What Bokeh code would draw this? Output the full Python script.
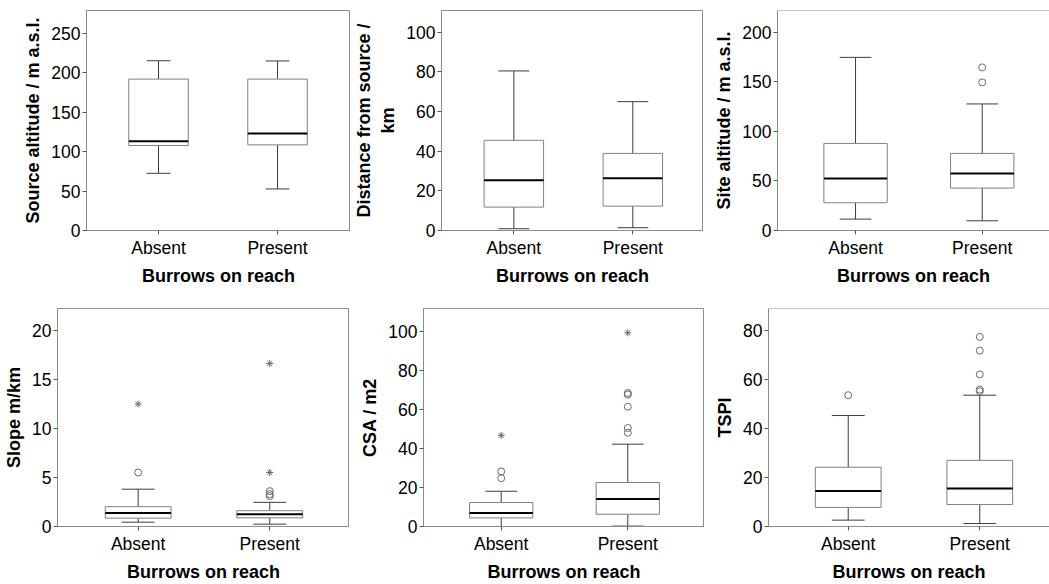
from bokeh.plotting import figure
from bokeh.layouts import column, row
from bokeh.models import Range1d, FixedTicker, Span
from bokeh.embed import file_html
from bokeh.resources import INLINE
import numpy as np

# ---------------- data ----------------
categories = ["Absent", "Present"]
x_title = "Burrows on reach"

# Source altitude / m a.s.l.
src_low = [72.5, 52.7]
src_q1 = [107.8, 108.6]
src_med = [113.3, 123.0]
src_q3 = [192.0, 192.0]
src_high = [215.3, 215.0]
src_ticks = [0, 50, 100, 150, 200, 250]

# Distance from source / km
dist_low = [0.9, 1.4]
dist_q1 = [11.8, 12.3]
dist_med = [25.3, 26.3]
dist_q3 = [45.5, 38.9]
dist_high = [80.5, 65.0]
dist_ticks = [0, 20, 40, 60, 80, 100]

# Site altitude / m a.s.l.
site_low = [11.5, 9.8]
site_q1 = [28.0, 42.8]
site_med = [52.5, 57.6]
site_q3 = [87.9, 77.8]
site_high = [174.7, 127.7]
site_out_cat = ["Present", "Present"]
site_out_val = [164.6, 149.5]
site_ticks = [0, 50, 100, 150, 200]

# Slope m/km
slope_low = [0.44, 0.24]
slope_q1 = [0.85, 0.88]
slope_med = [1.38, 1.25]
slope_q3 = [2.02, 1.61]
slope_high = [3.8, 2.46]
slope_out_cat = ["Absent", "Present", "Present", "Present"]
slope_out_val = [5.5, 3.1, 3.3, 3.6]
slope_ext_cat = ["Absent", "Present", "Present"]
slope_ext_val = [12.47, 5.5, 16.6]
slope_ticks = [0, 5, 10, 15, 20]

# CSA / m2
csa_low = [0.0, 0.2]
csa_q1 = [4.4, 6.3]
csa_med = [7.0, 14.1]
csa_q3 = [12.3, 22.6]
csa_high = [18.1, 42.3]
csa_out_cat = ["Absent", "Absent", "Present", "Present", "Present", "Present", "Present"]
csa_out_val = [28.3, 24.8, 68.6, 67.8, 61.5, 50.6, 48.2]
csa_ext_cat = ["Absent", "Present"]
csa_ext_val = [46.8, 99.5]
csa_ticks = [0, 20, 40, 60, 80, 100]

# TSPI
tspi_low = [2.6, 1.2]
tspi_q1 = [7.8, 9.0]
tspi_med = [14.5, 15.5]
tspi_q3 = [24.2, 27.0]
tspi_high = [45.3, 53.6]
tspi_out_cat = ["Absent", "Present", "Present", "Present", "Present", "Present"]
tspi_out_val = [53.6, 77.4, 71.8, 62.1, 55.9, 55.2]
tspi_ticks = [0, 20, 40, 60, 80]

# ---------------- styling ----------------
FONT = "Liberation Sans"
AXIS_GREY = "#8c8c8c"
BOX_GREY = "#808080"
WHISK = "#3c3c3c"
PT = "#6a6a6a"

pos = {c: i + 1 for i, c in enumerate(categories)}


def panel(ylabel, low, q1, med, q3, high, yticks, yend, w, h, left, top, bottom,
          xs, xe, cap, out_cat=None, out_val=None, ext_cat=None, ext_val=None,
          right_edge=True):
    p = figure(width=w, height=h, x_range=Range1d(xs, xe), y_range=Range1d(0, yend),
               output_backend="svg", toolbar_location=None, title=None,
               min_border_left=left, min_border_right=0,
               min_border_top=top, min_border_bottom=bottom)
    p.xgrid.visible = False
    p.ygrid.visible = False
    p.background_fill_color = "white"
    p.border_fill_color = "white"
    if right_edge:
        p.outline_line_color = AXIS_GREY
        p.outline_line_width = 1
    else:
        p.outline_line_color = None
        p.add_layout(Span(location=yend, dimension="width", line_color=AXIS_GREY, line_width=1))

    x = np.array([pos[c] for c in categories], dtype=float)
    low = np.array(low); q1 = np.array(q1); med = np.array(med)
    q3 = np.array(q3); high = np.array(high)

    # whiskers
    p.segment(x0=x, x1=x, y0=q3, y1=high, line_color=WHISK, line_width=1)
    p.segment(x0=x, x1=x, y0=low, y1=q1, line_color=WHISK, line_width=1)
    p.segment(x0=x - cap / 2, x1=x + cap / 2, y0=high, y1=high, line_color=WHISK, line_width=1)
    p.segment(x0=x - cap / 2, x1=x + cap / 2, y0=low, y1=low, line_color=WHISK, line_width=1)
    # boxes
    p.vbar(x=x, width=0.5, bottom=q1, top=q3, fill_color="white",
           line_color=BOX_GREY, line_width=1)
    # medians
    p.segment(x0=x - 0.25, x1=x + 0.25, y0=med, y1=med, line_color="black", line_width=2)

    if out_cat:
        p.scatter(x=[pos[c] for c in out_cat], y=out_val, marker="circle", size=7,
                  fill_color=None, line_color=PT, line_width=1)
    if ext_cat:
        p.scatter(x=[pos[c] for c in ext_cat], y=ext_val, marker="asterisk", size=7,
                  line_color=PT, line_width=1)

    p.xaxis.ticker = FixedTicker(ticks=[pos[c] for c in categories])
    p.xaxis.major_label_overrides = {pos[c]: c for c in categories}
    p.yaxis.ticker = FixedTicker(ticks=yticks)
    p.xaxis.axis_label = x_title
    p.yaxis.axis_label = ylabel
    for ax in (p.xaxis[0], p.yaxis[0]):
        ax.axis_line_color = AXIS_GREY
        ax.major_tick_line_color = "#555555"
        ax.minor_tick_line_color = None
        ax.major_tick_in = 0
        ax.major_tick_out = 4
        ax.major_label_text_font = FONT
        ax.major_label_text_font_size = "17.5px"
        ax.major_label_text_color = "black"
        ax.axis_label_text_font = FONT
        ax.axis_label_text_font_size = "18px"
        ax.axis_label_text_font_style = "bold"
        ax.axis_label_text_color = "black"
    p.yaxis.major_label_standoff = 2
    p.yaxis.axis_label_standoff = 5
    p.xaxis.major_label_standoff = 3
    p.xaxis.axis_label_standoff = 5
    return p


p1 = panel("Source altitude / m a.s.l.", src_low, src_q1, src_med, src_q3, src_high,
           src_ticks, 279, 350, 290, 86, 10, 60, 0.395, 2.613, 0.2)
p2 = panel("Distance from source /\nkm", dist_low, dist_q1, dist_med, dist_q3, dist_high,
           dist_ticks, 111, 353, 290, 91, 10, 60, 0.392, 2.594, 0.26)
p3 = panel("Site altitude / m a.s.l.", site_low, site_q1, site_med, site_q3, site_high,
           site_ticks, 222, 346, 290, 74, 10, 60, 0.384, 2.531, 0.25,
           out_cat=site_out_cat, out_val=site_out_val, right_edge=False)
p4 = panel("Slope m/km", slope_low, slope_q1, slope_med, slope_q3, slope_high,
           slope_ticks, 22.2, 349, 294, 57, 18, 55, 0.387, 2.606, 0.25,
           out_cat=slope_out_cat, out_val=slope_out_val,
           ext_cat=slope_ext_cat, ext_val=slope_ext_val)
p5 = panel("CSA / m2", csa_low, csa_q1, csa_med, csa_q3, csa_high,
           csa_ticks, 112, 355, 294, 74, 18, 55, 0.386, 2.606, 0.25,
           out_cat=csa_out_cat, out_val=csa_out_val,
           ext_cat=csa_ext_cat, ext_val=csa_ext_val)
p6 = panel("TSPI", tspi_low, tspi_q1, tspi_med, tspi_q3, tspi_high,
           tspi_ticks, 89, 345, 294, 64, 18, 55, 0.394, 2.53, 0.25,
           out_cat=tspi_out_cat, out_val=tspi_out_val, right_edge=False)

layout = column(row(p1, p2, p3, spacing=0), row(p4, p5, p6, spacing=0), spacing=0)

open("out.html", "w").write(file_html(layout, INLINE))
